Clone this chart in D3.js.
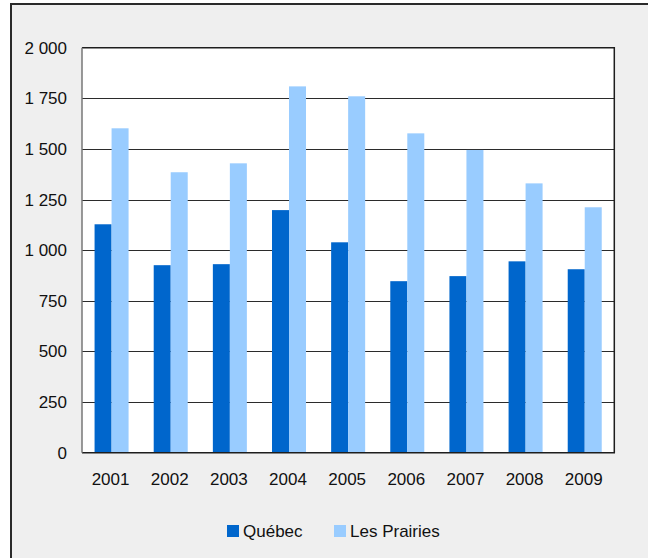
<!DOCTYPE html>
<html>
<head>
<meta charset="utf-8">
<script src="https://cdnjs.cloudflare.com/ajax/libs/d3/7.8.5/d3.min.js"></script>
<style>
  html, body { margin: 0; padding: 0; background: #ffffff; }
  svg { display: block; }
  text { font-family: "Liberation Sans", Arial, sans-serif; fill: #111; }
</style>
</head>
<body>
<svg id="chart" width="648" height="558"></svg>
<script>
const years = ["2001","2002","2003","2004","2005","2006","2007","2008","2009"];
const quebec = [1128, 926, 931, 1198, 1039, 847, 872, 945, 906];
const prairies = [1602, 1385, 1429, 1809, 1760, 1577, 1495, 1330, 1212];
const seriesNames = ["Québec", "Les Prairies"];
const seriesColors = ["#0066CC", "#99CCFF"];
const yTicks = [0, 250, 500, 750, 1000, 1250, 1500, 1750, 2000];

const svg = d3.select("#chart");
const W = 648, H = 558;
const plot = { left: 82, right: 614.3, top: 47.7, bottom: 452.7 };

// outer background & frame
svg.append("rect").attr("x", 11).attr("y", 4).attr("width", W).attr("height", H)
  .attr("fill", "#efefef").attr("stroke", "#2a2a2a").attr("stroke-width", 2);

const y = d3.scaleLinear().domain([0, 2000]).range([plot.bottom, plot.top]);
const x0 = d3.scaleBand().domain(years).range([plot.left, plot.right]).padding(0);
const x1 = d3.scaleBand().domain(seriesNames)
  .range([x0.bandwidth() * 0.2125, x0.bandwidth() * 0.7875]).padding(0);

// plot area
svg.append("rect").attr("x", plot.left).attr("y", plot.top)
  .attr("width", plot.right - plot.left).attr("height", plot.bottom - plot.top)
  .attr("fill", "#ffffff");

// gridlines
svg.append("g").selectAll("line").data(yTicks.filter(d => d > 0 && d < 2000)).join("line")
  .attr("x1", plot.left).attr("x2", plot.right)
  .attr("y1", d => Math.round(y(d)) + 0.5).attr("y2", d => Math.round(y(d)) + 0.5)
  .attr("stroke", "#2b2b2b").attr("stroke-width", 1);

// bars
const fmt = d3.formatLocale({ decimal: ",", thousands: " ", grouping: [3], currency: ["", ""] }).format(",d");
const rows = years.map((yr, i) => ({ year: yr, vals: [quebec[i], prairies[i]] }));
const groups = svg.append("g").selectAll("g").data(rows).join("g")
  .attr("transform", d => `translate(${x0(d.year)},0)`);
groups.selectAll("rect").data(d => d.vals.map((v, j) => ({ name: seriesNames[j], v, c: seriesColors[j] })))
  .join("rect")
  .attr("x", d => x1(d.name)).attr("width", x1.bandwidth())
  .attr("y", d => y(d.v)).attr("height", d => plot.bottom - y(d.v))
  .attr("fill", d => d.c);

// plot border
svg.append("path")
  .attr("d", `M${plot.left},${plot.top}H${plot.right}V${plot.bottom}H${plot.left}`)
  .attr("fill", "none").attr("stroke", "#1e1e1e").attr("stroke-width", 1.5);
svg.append("line").attr("x1", plot.left).attr("x2", plot.left)
  .attr("y1", plot.top).attr("y2", plot.bottom)
  .attr("stroke", "#777").attr("stroke-width", 1.5);

// y labels
svg.append("g").selectAll("text").data(yTicks).join("text")
  .attr("x", 67).attr("y", d => y(d)).attr("dy", "0.35em")
  .attr("text-anchor", "end").attr("font-size", 17)
  .text(d => fmt(d));

// x labels
svg.append("g").selectAll("text").data(years).join("text")
  .attr("x", d => x0(d) + x0.bandwidth() / 2 - 1).attr("y", 485)
  .attr("text-anchor", "middle").attr("font-size", 17)
  .text(d => d);

// legend
const legendX = [227, 334];
const leg = svg.append("g").selectAll("g").data(seriesNames).join("g")
  .attr("transform", (d, i) => `translate(${legendX[i]},525)`);
leg.append("rect").attr("width", 12).attr("height", 12).attr("fill", (d, i) => seriesColors[i]);
leg.append("text").attr("x", 16).attr("y", 12).attr("font-size", 17).text(d => d);
</script>
</body>
</html>
